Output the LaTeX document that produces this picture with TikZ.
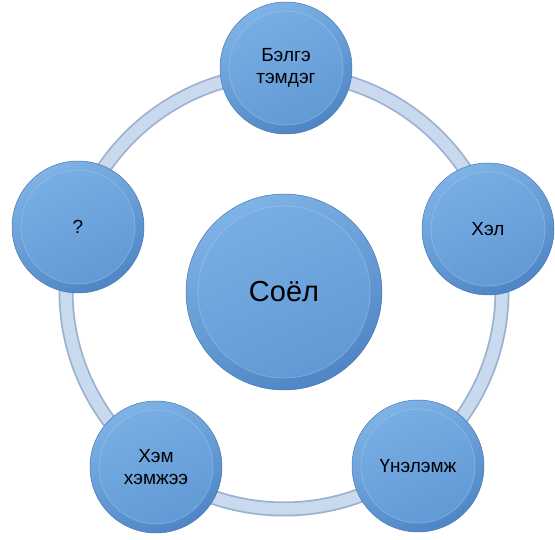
\documentclass[tikz,border=0pt]{standalone}
\usepackage{fontspec}
\setmainfont{Liberation Sans}
\begin{document}
\begin{tikzpicture}[x=1pt,y=-1pt]
\definecolor{rimtop}{HTML}{7FB3E6}
\definecolor{rimbot}{HTML}{4F85C5}
\definecolor{discA}{HTML}{79AFE4}
\definecolor{discB}{HTML}{6098D5}
\definecolor{discedge}{HTML}{A4CCF0}
\definecolor{ringfill}{HTML}{C9D9EE}
\definecolor{ringedge}{HTML}{9BB1D0}
\tikzset{
  ball/.style={circle, inner sep=0pt, align=center, text=black,
    draw=rimbot!90!black, line width=0.5pt,
    top color=rimtop, bottom color=rimbot, shading angle=25,
    path picture={
      \shade[top color=discA, bottom color=discB, shading angle=25]
        (path picture bounding box.center) circle[radius=#1];
      \draw[discedge, line width=0.8pt, opacity=0.45]
        (path picture bounding box.center) circle[radius=#1];
    }},
  smallball/.style={ball=57, minimum size=132pt,
    font=\fontsize{19}{22}\selectfont},
  bigball/.style={ball=86, minimum size=196pt,
    font=\fontsize{29}{34}\selectfont},
  ringline/.style={line width=#1}
}
\useasboundingbox (0,0) rectangle (555,540);
\coordinate (ringc) at (284,291);
\draw[ringedge, ringline=15pt] (ringc) circle[radius=218];
\draw[ringfill, ringline=11.5pt] (ringc) circle[radius=218];

\node[bigball] (center) at (284,292) {Соёл};
\node[smallball] (top) at (286,68) {Бэлгэ\\тэмдэг};
\node[smallball] (right) at (488,229) {Хэл};
\node[smallball] (bright) at (418,466) {Үнэлэмж};
\node[smallball] (bleft) at (156,467) {Хэм\\хэмжээ};
\node[smallball] (left) at (78,227) {?};
\end{tikzpicture}
\end{document}
